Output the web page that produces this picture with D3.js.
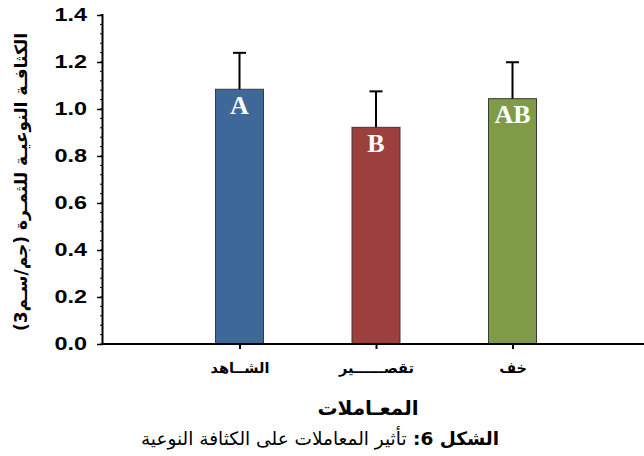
<!DOCTYPE html>
<html>
<head>
<meta charset="utf-8">
<script src="https://cdn.jsdelivr.net/npm/d3@7"></script>
<style>
  html, body { margin: 0; padding: 0; background: #fff; }
  svg { display: block; }
</style>
</head>
<body>
<div id="chart"></div>
<script>
// Treatments, mean fruit specific gravity, standard error and significance letters
const categories = ["الشــاهد", "تقصــــــير", "خف"];
const means = [1.084, 0.922, 1.044];
const errors = [0.155, 0.153, 0.155];
const letters = ["A", "B", "AB"];
const barColors = ["#3E6899", "#9D3F3D", "#7F9B48"];
const yTicks = [0.0, 0.2, 0.4, 0.6, 0.8, 1.0, 1.2, 1.4];

const W = 644, H = 456;
const svg = d3.select("#chart").append("svg")
  .attr("width", W).attr("height", H);

const x0 = 103, yBase = 344, yTop = 15;

// positions 1..3 on a 0..4 axis; the axis line runs past the right edge
const x = d3.scaleLinear().domain([0, 4]).range([x0, x0 + 4 * 136.5]);
const y = d3.scaleLinear().domain([0, 1.4]).range([yBase, yTop]);
const barW = 48;

const g = svg.append("g");

// bars
g.selectAll("rect.bar").data(means).enter().append("rect")
  .attr("class", "bar")
  .attr("x", (d, i) => x(i + 1) - barW / 2)
  .attr("y", d => y(d))
  .attr("width", barW)
  .attr("height", d => y(0) - y(d))
  .attr("fill", (d, i) => barColors[i])
  .attr("stroke", "#3a3a3a")
  .attr("stroke-width", 1);

// error bars (upper only)
const eb = g.selectAll("g.err").data(means).enter().append("g").attr("class", "err");
eb.append("line")
  .attr("x1", (d, i) => x(i + 1)).attr("x2", (d, i) => x(i + 1))
  .attr("y1", d => y(d)).attr("y2", (d, i) => y(d + errors[i]))
  .attr("stroke", "#000").attr("stroke-width", 2);
eb.append("line")
  .attr("x1", (d, i) => x(i + 1) - 6.5).attr("x2", (d, i) => x(i + 1) + 6.5)
  .attr("y1", (d, i) => y(d + errors[i])).attr("y2", (d, i) => y(d + errors[i]))
  .attr("stroke", "#000").attr("stroke-width", 2);

// significance letters inside the bars
g.selectAll("text.letter").data(means).enter().append("text")
  .attr("class", "letter")
  .attr("x", (d, i) => x(i + 1))
  .attr("y", d => y(d) + 24.5)
  .attr("text-anchor", "middle")
  .attr("font-family", "'Liberation Serif', 'DejaVu Serif', serif")
  .attr("font-weight", "bold")
  .attr("font-size", 26)
  .attr("fill", "#fff")
  .text((d, i) => letters[i]);

// y axis with minor ticks
const minor = d3.range(0, 1.4001, 0.04);
g.selectAll("line.minor").data(minor).enter().append("line")
  .attr("x1", x0 - 3).attr("x2", x0)
  .attr("y1", d => y(d)).attr("y2", d => y(d))
  .attr("stroke", "#000").attr("stroke-width", 1);

const yAxis = d3.axisLeft(y).tickValues(yTicks).tickFormat(d3.format(".1f"))
  .tickSize(6).tickPadding(6);
const ya = g.append("g").attr("transform", `translate(${x0},0)`).call(yAxis);
ya.select(".domain").attr("stroke-width", 2).attr("d", `M${-0.5},${yTop - 1}V${yBase + 1}`);
ya.selectAll(".tick line").attr("stroke-width", 1.5);
// wide, bold tick numbers
ya.selectAll(".tick text")
  .attr("x", 0)
  .attr("transform", "translate(-16,0) scale(1.3,1)")
  .attr("font-family", "'Liberation Sans', Arial, sans-serif")
  .attr("font-weight", "bold")
  .attr("font-size", 18)
  .attr("fill", "#000");

// x axis
const xAxis = d3.axisBottom(x).tickValues([1, 2, 3]).tickFormat((d) => categories[d - 1])
  .tickSize(5).tickPadding(14).tickSizeOuter(0);
const xa = g.append("g").attr("transform", `translate(0,${yBase})`).call(xAxis);
xa.select(".domain").attr("stroke-width", 2).attr("d", `M${x0 - 1},0H${W}`);
xa.selectAll(".tick line").attr("stroke-width", 2);
xa.selectAll(".tick text")
  .attr("font-family", "'DejaVu Sans', sans-serif")
  .attr("font-weight", "bold")
  .attr("font-size", 14.5)
  .attr("fill", "#000");

// axis titles
svg.append("text")
  .attr("transform", "translate(27,182) rotate(-90)")
  .attr("text-anchor", "middle")
  .attr("direction", "rtl")
  .attr("font-family", "'DejaVu Sans', sans-serif")
  .attr("font-weight", "bold")
  .attr("font-size", 17)
  .text("الكثافـة النوعيـة للثمـرة (جم/سـم3)");

svg.append("text")
  .attr("x", 368).attr("y", 415)
  .attr("text-anchor", "middle")
  .attr("direction", "rtl")
  .attr("font-family", "'DejaVu Sans', sans-serif")
  .attr("font-weight", "bold")
  .attr("font-size", 20)
  .text("المعـاملات");

// figure caption
const cap = svg.append("text")
  .attr("x", 320).attr("y", 445)
  .attr("text-anchor", "middle")
  .attr("direction", "rtl")
  .attr("font-family", "'DejaVu Sans', sans-serif")
  .attr("font-size", 18.5);
cap.append("tspan").attr("font-weight", "bold").text("الشكل 6: ");
cap.append("tspan").text("تأثير المعاملات على الكثافة النوعية");
</script>
</body>
</html>
